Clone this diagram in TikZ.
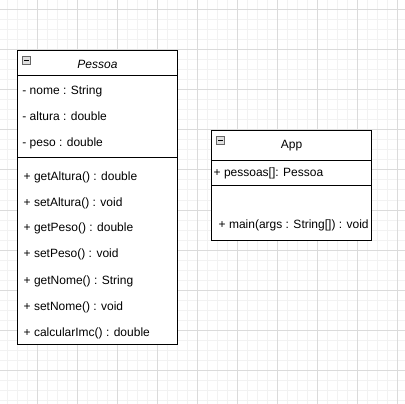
\documentclass[tikz,border=0pt]{standalone}
\usepackage{fontspec}
\setmainfont{Liberation Sans}
\begin{document}
\begin{tikzpicture}[x=1pt,y=-1pt,
  box/.style={draw=black,line width=1pt},
  sep/.style={draw=black,line width=1pt},
  mem/.style={anchor=base west,inner sep=0pt,font=\fontsize{12}{14}\selectfont},
  ttl/.style={anchor=base,inner sep=0pt,font=\fontsize{12}{14}\selectfont},
  icon/.style={draw=gray!80!black,fill=gray!25,line width=0.8pt,minimum width=8pt,minimum height=8pt,inner sep=0pt},
  minorg/.style={draw=black!5,line width=1pt},
  majorg/.style={draw=black!14,line width=1pt}]
\useasboundingbox (0,0) rectangle (405,404);
\fill[white] (0,0) rectangle (405,404);
% grid
\foreach \x in {7,17,...,397} \draw[minorg] (\x,0) -- (\x,404);
\foreach \y in {0,10,...,400} \draw[minorg] (0,\y) -- (405,\y);
\foreach \x in {37,77,...,397} \draw[majorg] (\x,0) -- (\x,404);
\foreach \y in {10,50,...,400} \draw[majorg] (0,\y) -- (405,\y);
% Pessoa
\draw[box,fill=white] (17.5,50.5) rectangle (177.5,344);
\draw[sep] (17.5,76) -- (177.5,76);
\draw[sep] (17.5,158) -- (177.5,158);
\node[icon] (pi) at (26.5,60.5) {};
\draw[black,line width=0.9pt] ([xshift=2pt]pi.west) -- ([xshift=-2pt]pi.east);
\node[ttl] (pt) at (97.5,68.3) {\itshape Pessoa};
\node[mem] (a1) at (22.2,94.3) {- nome : String};
\node[mem] (a2) at (22.2,120.3) {- altura : double};
\node[mem] (a3) at (22.2,146.3) {- peso : double};
\node[mem] (m1) at (23.5,180) {+ getAltura() : double};
\node[mem] (m2) at (23.5,206) {+ setAltura() : void};
\node[mem] (m3) at (23.5,232) {+ getPeso() : double};
\node[mem] (m4) at (23.5,258) {+ setPeso() : void};
\node[mem] (m5) at (23.5,284) {+ getNome() : String};
\node[mem] (m6) at (23.5,310) {+ setNome() : void};
\node[mem] (m7) at (23.5,336) {+ calcularImc() : double};
% App
\draw[box,fill=white] (211.5,130.5) rectangle (371.5,240);
\draw[sep] (211.5,160.5) -- (371.5,160.5);
\draw[sep] (211.5,185.5) -- (371.5,185.5);
\node[icon] (ai) at (220.5,140) {};
\draw[black,line width=0.9pt] ([xshift=2pt]ai.west) -- ([xshift=-2pt]ai.east);
\node[ttl] (at) at (291.5,148.3) {App};
\node[mem] (b1) at (213.5,177) {+ pessoas[]: Pessoa};
\node[mem] (c1) at (218.5,229) {+ main(args : String[]) : void};
\end{tikzpicture}
\end{document}
